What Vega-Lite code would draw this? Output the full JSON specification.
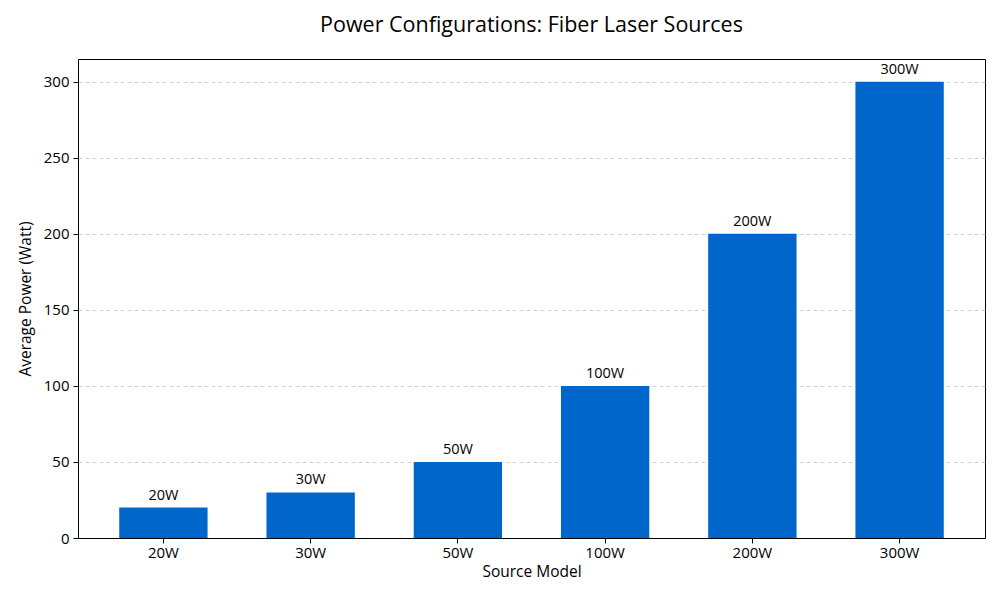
{
  "$schema": "https://vega.github.io/schema/vega-lite/v6.json",
  "width": 907,
  "height": 479,
  "autosize": "none",
  "padding": {"left": 78, "top": 59, "right": 15, "bottom": 62},
  "background": "white",
  "config": {
    "font": "Open Sans",
    "view": {"stroke": "black", "strokeWidth": 1}
  },
  "title": {
    "text": "Power Configurations: Fiber Laser Sources",
    "fontSize": 21.5,
    "fontWeight": "normal",
    "color": "black",
    "offset": 23,
    "anchor": "middle"
  },
  "data": {
    "values": [
      {"model": "20W", "power": 20},
      {"model": "30W", "power": 30},
      {"model": "50W", "power": 50},
      {"model": "100W", "power": 100},
      {"model": "200W", "power": 200},
      {"model": "300W", "power": 300}
    ]
  },
  "encoding": {
    "x": {
      "field": "model",
      "type": "nominal",
      "sort": null,
      "title": "Source Model",
      "scale": {"paddingInner": 0.4, "paddingOuter": 0.28},
      "axis": {
        "labelAngle": 0,
        "labelFontSize": 15,
        "labelColor": "black",
        "titleFontSize": 15.5,
        "titleFontWeight": "normal",
        "titleColor": "black",
        "domainColor": "black",
        "tickColor": "black",
        "tickSize": 5,
        "labelPadding": 2,
        "titlePadding": 4,
        "grid": false
      }
    },
    "y": {
      "field": "power",
      "type": "quantitative",
      "title": "Average Power (Watt)",
      "scale": {"domain": [0, 315], "nice": false},
      "axis": {
        "values": [0, 50, 100, 150, 200, 250, 300],
        "labelFontSize": 15,
        "labelColor": "black",
        "titleFontSize": 15.5,
        "titleFontWeight": "normal",
        "titleColor": "black",
        "domainColor": "black",
        "tickColor": "black",
        "tickSize": 5,
        "labelPadding": 4,
        "titlePadding": 10,
        "grid": true,
        "gridColor": "#c8c8c8",
        "gridDash": [4, 3],
        "gridWidth": 0.8
      }
    }
  },
  "layer": [
    {"mark": {"type": "bar", "color": "#0066CC"}},
    {
      "mark": {"type": "text", "baseline": "bottom", "dy": -5, "fontSize": 14.5, "color": "black"},
      "encoding": {"text": {"field": "model"}}
    }
  ]
}
